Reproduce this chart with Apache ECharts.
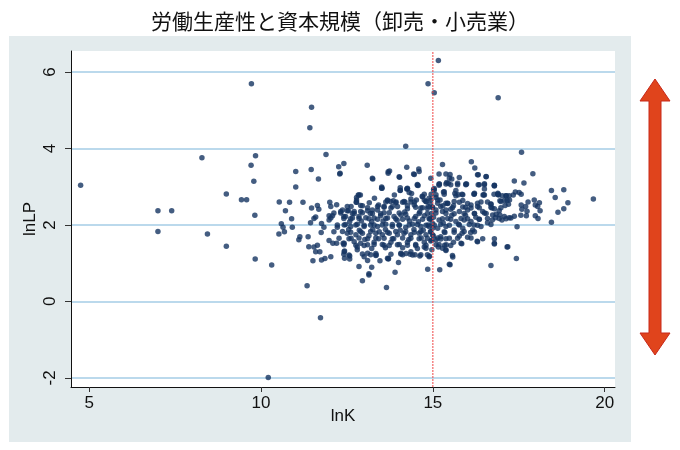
<!DOCTYPE html>
<html>
<head>
<meta charset="utf-8">
<script src="https://cdn.jsdelivr.net/npm/echarts@6/dist/echarts.min.js"></script>
<style>
  html, body { margin: 0; padding: 0; background: #fff; }
  #chart { width: 680px; height: 450px; }
</style>
</head>
<body>
<div id="chart"></div>
<script>
// 労働生産性(lnLP) と 資本規模(lnK)、卸売・小売業
var titleText = '労働生産性と資本規模（卸売・小売業）';
var xTicks = [5, 10, 15, 20];
var yTicks = [-2, 0, 2, 4, 6];
var cutK = 15;
var xMin = 4.47, xMax = 20.3;
var yMin = -2.24, yMax = 6.55;

// 外れ値・左側のまばらな点 [lnK, lnLP]
var sparsePts = [
  [4.75,3.04],[7.0,2.37],[7.40,2.37],[7.0,1.83],[8.28,3.76],[8.44,1.76],[8.99,2.81],[8.99,1.44],
  [9.43,2.66],[9.58,2.66],[9.72,5.69],[9.84,3.81],[9.71,3.56],[9.79,3.14],[9.82,2.25],[9.83,1.11],
  [10.31,0.95],[10.21,-1.99],[11.73,-0.43],[10.53,2.60],[10.52,1.76],[11.47,5.08],[11.42,4.54],
  [14.21,4.06],[14.86,5.69],[15.04,5.46],[15.16,6.30],[16.9,5.33]
];

// 左〜中央の点
var leftPts = [
  [11.89,3.84],[11.01,3.40],[11.46,3.45],[12.26,3.52],[12.41,3.61],[12.29,3.33],[13.09,3.56],
  [13.70,3.39],[13.74,3.41],[14.24,3.51],[14.59,3.46],[14.46,3.32],[14.03,3.25],[13.25,3.20],
  [11.67,3.20],[14.94,3.22],[11.01,2.99],[10.83,2.59],[11.22,2.59],[10.71,2.37],[11.64,2.51],
  [11.68,2.41],[11.47,2.44],[12.0,2.59],[12.20,2.53],[10.89,2.16],[10.59,2.03],[10.64,1.94],
  [10.68,1.82],[10.91,1.94],[11.44,2.06],[11.54,2.17],[11.59,2.21],[11.76,2.04],[11.83,1.94],
  [11.98,2.24],[12.08,2.24],[11.98,2.13],[12.32,2.35],[12.41,2.22],[12.54,2.37],[12.22,1.94],
  [11.75,1.80],[11.13,1.69],[11.10,1.61],[11.37,1.69],[11.98,1.59],[12.09,1.52],[12.20,1.52],
  [12.39,1.52],[11.39,1.43],[11.54,1.42],[11.64,1.47],[11.59,1.30],[11.71,1.30],[12.03,1.17],
  [11.86,1.12],[11.51,1.06],[11.76,1.08],[12.43,1.32],[12.58,1.19],[12.43,1.13],[12.58,1.11],
  [11.34,0.41],[12.85,0.91],[12.95,0.54],[13.14,0.69],[13.22,0.89],[13.65,0.36],[13.90,0.76],
  [13.70,1.11],[13.10,1.07],[13.00,1.17],[13.35,1.21],[14.55,3.06],[13.52,2.96],[14.05,2.90],
  [14.26,2.96],[12.83,2.78],[12.89,2.78],[12.77,2.59],[13.68,2.63],[13.77,2.61],[13.93,2.60],
  [14.19,2.60],[14.46,2.60],[14.52,2.65],[14.69,2.75],[14.75,2.65],[14.94,1.58],[14.90,1.19],
  [14.85,0.84],[13.71,1.12],[14.12,1.22],[14.22,1.25],[14.34,1.23],[14.48,1.22],[14.62,1.19],
  [14.75,1.42],[14.80,1.39]
];

// 密集部 (lnK 12.3〜15)
var corePts = [
  [13.51,2.96],[14.05,2.91],[14.26,2.94],[14.57,3.03],[12.85,2.78],[12.78,2.59],[13.68,2.65],
  [13.85,2.63],[14.16,2.61],[14.36,2.68],[14.70,2.74],[14.80,2.61],[13.58,2.48],[13.78,2.44],
  [13.97,2.48],[14.26,2.42],[14.46,2.52],[14.65,2.44],[14.86,2.48],[12.37,2.39],[12.51,2.37],
  [12.71,2.35],[12.90,2.35],[13.10,2.37],[13.24,2.39],[13.39,2.39],[12.46,2.22],[12.66,2.18],
  [12.85,2.22],[13.05,2.19],[13.29,2.18],[13.48,2.24],[13.68,2.18],[13.87,2.22],[14.07,2.26],
  [14.26,2.18],[14.50,2.22],[14.75,2.24],[12.42,2.00],[12.61,1.96],[12.80,2.02],[13.0,1.96],
  [13.19,2.00],[13.39,1.96],[13.63,2.02],[13.82,1.96],[14.02,2.00],[14.21,1.93],[14.41,2.02],
  [14.65,1.96],[14.86,2.00],[12.51,1.78],[12.76,1.74],[12.95,1.78],[13.14,1.72],[13.34,1.78],
  [13.53,1.74],[13.73,1.78],[13.97,1.74],[14.16,1.78],[14.36,1.74],[14.60,1.78],[14.80,1.74],
  [12.42,1.52],[12.71,1.56],[12.90,1.52],[13.10,1.48],[13.29,1.55],[13.53,1.49],[13.78,1.55],
  [14.02,1.49],[14.26,1.55],[14.50,1.49],[14.75,1.55],[12.42,1.30],[12.80,1.35],[13.10,1.26],
  [13.34,1.20],[13.68,1.13],[14.07,1.26],[14.36,1.30],[14.65,1.22],[14.89,1.17],
  [12.62,2.48],[12.95,2.50],[13.15,2.58],[13.42,2.52],[13.30,2.70],[13.88,2.78],[14.38,2.82],
  [12.58,2.08],[12.92,2.10],[13.22,2.08],[13.55,2.10],[13.96,2.12],[14.32,2.10],[14.58,2.08],
  [12.55,1.88],[12.86,1.86],[13.25,1.88],[13.62,1.88],[14.05,1.86],[14.45,1.88],[14.72,1.86],
  [12.62,1.65],[13.02,1.62],[13.42,1.64],[13.86,1.64],[14.30,1.62],[14.66,1.66],
  [12.80,1.42],[13.22,1.38],[13.62,1.40],[14.12,1.40],[14.55,1.38],[12.66,2.30],[13.18,2.30],
  [13.58,2.32],[14.18,2.34],[14.62,2.34],[13.46,1.06],[14.00,1.02]
];

// 密集部の追加読み取り (lnK 12〜17)
var densePts = [
  [12.30,3.35],[13.70,3.35],[14.02,3.26],[14.44,3.33],[14.60,3.40],[13.24,3.22],[15.48,3.23],
  [15.77,3.24],[16.30,3.31],[16.55,3.27],[13.51,2.99],[14.55,3.04],[15.18,3.04],[15.38,3.07],
  [15.72,3.05],[15.96,3.05],[16.50,3.05],[16.79,3.04],[14.05,2.97],[14.24,2.94],[15.04,2.95],
  [12.78,2.72],[14.31,2.85],[14.75,2.80],[15.09,2.79],[15.33,2.80],[15.64,2.82],[15.87,2.79],
  [16.20,2.80],[16.48,2.79],[16.89,2.80],[12.78,2.65],[13.63,2.60],[13.92,2.58],[14.12,2.59],
  [14.36,2.60],[14.80,2.61],[15.14,2.57],[15.43,2.56],[15.77,2.59],[16.01,2.56],[16.30,2.57],
  [16.59,2.60],[12.03,2.48],[12.51,2.48],[12.90,2.51],[13.10,2.45],[13.39,2.48],[13.58,2.46],
  [13.82,2.48],[14.26,2.50],[14.50,2.46],[14.70,2.45],[14.99,2.47],[15.23,2.48],[15.57,2.45],
  [15.87,2.47],[16.11,2.44],[16.35,2.45],[16.69,2.46],[12.12,2.31],[12.32,2.31],[12.71,2.30],
  [12.95,2.32],[13.24,2.30],[13.48,2.29],[13.73,2.32],[14.02,2.31],[14.21,2.28],[14.60,2.30],
  [14.84,2.30],[15.09,2.31],[15.38,2.30],[15.62,2.29],[15.91,2.30],[16.21,2.30],[16.50,2.31],
  [16.84,2.28],[12.03,2.18],[12.41,2.17],[12.61,2.16],[12.85,2.17],[13.14,2.16],[13.39,2.15],
  [13.63,2.17],[13.92,2.16],[14.12,2.15],[14.46,2.17],[14.70,2.15],[14.89,2.17],[15.28,2.16],
  [15.52,2.15],[15.82,2.17],[16.01,2.16],[16.35,2.15],[16.59,2.17],[12.22,2.00],[12.46,2.01],
  [12.76,2.00],[13.00,1.99],[13.29,2.00],[13.53,2.00],[13.82,2.01],[14.02,1.99],[14.31,2.00],
  [14.55,2.01],[14.80,1.99],[15.04,2.00],[15.23,2.01],[15.48,1.99],[15.77,2.00],[16.06,2.01],
  [16.30,1.99],[12.12,1.82],[12.37,1.83],[12.61,1.81],[12.90,1.82],[13.19,1.83],[13.44,1.82],
  [13.68,1.81],[13.92,1.83],[14.21,1.82],[14.46,1.81],[14.65,1.83],[14.94,1.82],[15.33,1.82],
  [15.62,1.81],[15.91,1.83],[16.21,1.82],[12.27,1.65],[12.56,1.64],[12.85,1.66],[13.10,1.64],
  [13.34,1.66],[13.58,1.65],[13.82,1.64],[14.12,1.66],[14.36,1.65],[14.60,1.64],[14.84,1.65],
  [15.14,1.66],[15.38,1.64],[15.72,1.65],[16.11,1.66],[16.79,1.64],[12.41,1.48],[12.76,1.47],
  [13.00,1.46],[13.29,1.49],[13.58,1.47],[13.73,1.46],[13.97,1.48],[14.26,1.47],[14.50,1.46],
  [14.80,1.47],[15.18,1.49],[15.52,1.46],[12.41,1.23],[12.56,1.21],[12.95,1.24],[13.19,1.22],
  [13.34,1.25],[13.78,1.23],[14.07,1.24],[14.41,1.21],[14.84,1.22],[15.57,1.20],[13.14,0.72]
];

// 縦線付近 (lnK ≈ 15)
var columnPts = [
  [14.92,2.55],[14.96,2.30],[14.98,2.05],[14.93,1.82],[14.97,1.60],[14.95,2.80],[14.99,2.45],
  [14.91,2.15],[15.02,2.20],[15.00,1.92],[14.94,2.65],[15.01,1.72],[14.97,1.35]
];

// 右側 (lnK 15〜20)
var rightPts = [
  [15.18,3.07],[15.52,3.05],[15.96,3.07],[16.35,3.05],[16.79,3.02],[15.04,2.91],[15.33,2.87],
  [15.67,2.90],[16.21,2.83],[16.50,2.78],[16.89,2.83],[17.13,2.76],[17.34,2.78],[14.89,2.70],
  [15.14,2.65],[15.38,2.57],[15.62,2.61],[15.87,2.64],[16.11,2.52],[16.30,2.48],[16.69,2.55],
  [16.98,2.61],[17.23,2.65],[14.84,2.43],[15.09,2.39],[15.28,2.35],[15.52,2.41],[15.77,2.35],
  [16.01,2.39],[16.21,2.30],[16.45,2.35],[16.74,2.26],[17.08,2.22],[17.27,2.18],[14.94,2.17],
  [15.18,2.13],[15.43,2.17],[15.67,2.09],[15.91,2.13],[16.11,2.09],[16.35,2.15],[16.59,2.06],
  [14.89,1.96],[15.14,1.91],[15.38,1.96],[15.62,1.87],[15.87,1.91],[16.16,1.87],[16.40,1.96],
  [14.99,1.74],[15.23,1.69],[15.48,1.65],[15.77,1.71],[16.01,1.68],[16.30,1.56],[15.09,1.48],
  [15.38,1.35],[15.82,1.52],[16.79,1.52],[17.18,1.43],
  [15.28,3.58],[15.02,2.93],[15.18,3.33],[15.38,3.33],[15.45,3.09],[15.31,2.86],[15.09,2.72],
  [15.21,2.65],[15.43,2.57],[15.38,2.39],[15.29,2.50],[15.20,0.83],[15.48,0.97],[15.28,1.39],
  [15.39,1.48],[15.23,1.63],[15.09,1.61],
  [17.58,3.90],[16.12,3.65],[16.22,3.49],[17.91,3.34],[16.32,3.31],[16.55,3.26],[15.50,3.32],
  [15.55,3.20],[15.19,3.07],[15.40,3.11],[15.72,3.09],[15.98,3.07],[16.32,3.05],[16.50,3.08],
  [16.79,3.03],[16.50,2.94],[17.37,3.15],[17.65,3.10],[18.45,2.90],[18.81,2.92],[18.56,2.72],
  [18.93,2.58],[18.81,2.42],[18.64,2.33],[19.67,2.68],[18.45,2.07],[17.45,1.95],[17.16,1.42],
  [17.43,1.12],[16.69,0.94],[16.79,1.50],[15.84,1.51],[16.29,1.57],[16.45,1.64],[15.58,1.16],
  [15.50,0.96],[15.34,1.47],[15.16,1.42],[15.38,1.33],[17.95,2.65],[18.10,2.58],[18.05,2.48],
  [17.98,2.52],[17.57,2.52],[17.70,2.48],[17.59,2.41],[17.74,2.36],[17.72,2.24],[17.56,2.25],
  [17.98,2.24],[18.06,2.17],[18.12,2.37],[17.77,2.60],[17.40,2.86],[17.51,2.85],[17.57,2.80],
  [17.22,2.76],[17.13,2.76],[17.02,2.76],[16.91,2.78],[17.16,2.64],[17.08,2.64],[16.95,2.63],
  [17.20,2.54],[17.10,2.51],[16.98,2.45],[17.37,2.23],[17.22,2.19],[17.13,2.16],[17.01,2.13],
  [16.93,2.17],[16.69,2.54],[16.72,2.44],[16.79,2.42],[16.93,2.37],[16.95,2.26],[16.82,2.19],
  [16.73,2.13],[16.69,2.01],[16.78,2.80],[16.90,2.80],[16.46,2.78],[16.20,2.81],[15.85,2.80],
  [15.74,2.79],[15.67,2.76],
  [15.60,2.50],[15.95,2.46],[16.40,2.60],[15.55,2.25],[15.95,2.25],[16.25,2.20],[16.55,2.30],
  [15.30,2.05],[15.75,2.02],[16.20,2.00],[15.35,1.80],[15.85,1.78],[16.10,1.80],[15.60,1.55]
];

var fontLat = 'Liberation Sans, Arial, sans-serif';
var cutColor = '#ef4747';

window.onload = function(){
  var myChart = echarts.init(document.querySelector('#chart'));
  var allPts = sparsePts.concat(leftPts, corePts, densePts, columnPts, rightPts);

  myChart.setOption({
    backgroundColor: '#fff',
    animation: false,
    title: {
      text: titleText,
      left: 'center',
      top: 6,
      textStyle: { fontFamily: 'Noto Sans CJK JP', fontSize: 21, fontWeight: 'normal', color: '#111' }
    },
    graphic: [
      // 外側のパネル
      { type: 'rect', z: -100, silent: true,
        shape: { x: 9, y: 36, width: 622, height: 406 },
        style: { fill: '#e3ebed' } },
      // 右の赤い両矢印
      { type: 'polygon', z: 10, silent: true,
        shape: { points: [[655,79],[670,101],[661,101],[661,333],[670,333],[655,355],[640,333],[649,333],[649,101],[640,101]] },
        style: { fill: '#e0441c', stroke: '#c8281a', lineWidth: 1 } }
    ],
    grid: {
      left: 71, right: 65, top: 51, bottom: 63,
      show: true, backgroundColor: '#fff', borderWidth: 0
    },
    xAxis: {
      type: 'value',
      min: xMin, max: xMax,
      name: 'lnK',
      nameLocation: 'middle',
      nameGap: 21,
      nameMoveOverlap: false,
      nameTextStyle: { fontFamily: fontLat, fontSize: 17, color: '#111' },
      axisLine: { onZero: false, lineStyle: { color: '#111', width: 1 } },
      axisTick: { show: true, length: 5, customValues: xTicks, lineStyle: { color: '#333' } },
      axisLabel: { customValues: xTicks, fontFamily: fontLat, fontSize: 17, color: '#111', margin: 8 },
      splitLine: { show: false }
    },
    yAxis: {
      type: 'value',
      min: yMin, max: yMax,
      name: 'lnLP',
      nameLocation: 'middle',
      nameGap: 32,
      nameMoveOverlap: false,
      nameTextStyle: { fontFamily: fontLat, fontSize: 17, color: '#111' },
      axisLine: { show: true, onZero: false, lineStyle: { color: '#111', width: 1 } },
      axisTick: { show: true, length: 6, customValues: yTicks, lineStyle: { color: '#333' } },
      axisLabel: { customValues: yTicks, rotate: 90, fontFamily: fontLat, fontSize: 17, color: '#111', margin: 12 },
      splitLine: { show: true, lineStyle: { color: '#a5cde6', width: 1.5 } }
    },
    series: [{
      // lnK = 15 の赤い点線
      type: 'line',
      data: [[cutK, yMin], [cutK, yMax]],
      symbol: 'none',
      silent: true,
      z: 3,
      lineStyle: { color: cutColor, type: [2, 1], width: 1 }
    }, {
      type: 'scatter',
      data: allPts,
      symbolSize: 5.5,
      z: 2,
      itemStyle: { color: '#153561' }
    }]
  });
}
</script>
</body>
</html>
